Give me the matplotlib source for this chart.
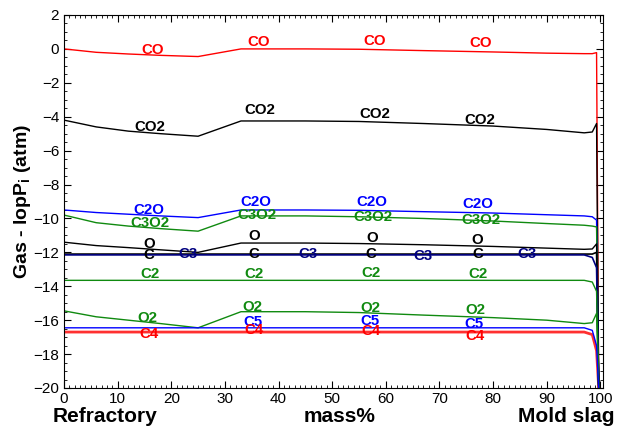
import numpy as np
import matplotlib.pyplot as plt
from matplotlib.ticker import MultipleLocator

plt.rcParams['font.family'] = ['Liberation Sans', 'DejaVu Sans']

# composition grid (mass%) shared by all species
xs = [0, 6, 12, 18, 25, 33, 45, 55, 67, 80, 90, 97, 98.5, 99.3, 99.7]

co = [0.0, -0.2, -0.3, -0.38, -0.45, 0.0, 0.0, -0.02, -0.1, -0.18, -0.25, -0.28, -0.28, -0.22, -20]
co2 = [-4.2, -4.6, -4.85, -5.0, -5.15, -4.25, -4.25, -4.28, -4.4, -4.55, -4.75, -4.95, -4.9, -4.4, -20]
c2o = [-9.5, -9.65, -9.75, -9.85, -9.95, -9.5, -9.5, -9.52, -9.6, -9.68, -9.78, -9.85, -9.9, -10.1, -20]
c3o2 = [-9.8, -10.25, -10.45, -10.6, -10.75, -9.85, -9.85, -9.9, -10.0, -10.15, -10.3, -10.4, -10.45, -10.5, -20]
o = [-11.4, -11.6, -11.72, -11.85, -12.0, -11.45, -11.45, -11.48, -11.55, -11.65, -11.75, -11.82, -11.8, -11.5, -20]
c = [-12.1] * 13 + [-12.0, -20]
c3 = [-12.15] * 12 + [-12.3, -12.9, -20]
c2 = [-13.65] * 12 + [-13.75, -14.3, -20]
o2 = [-15.45, -15.8, -16.0, -16.2, -16.45, -15.5, -15.5, -15.55, -15.7, -15.85, -16.0, -16.2, -16.15, -15.6, -20]
c5 = [-16.45] * 12 + [-16.6, -17.5, -20]
c4 = [-16.7] * 12 + [-16.85, -17.8, -20]

# in-plot labels: name, colour, x positions, y positions
labels = [
    ("CO", "red", [16.6, 36.3, 57.9, 77.7], [-0.06, 0.41, 0.47, 0.35]),
    ("CO2", "black", [16.0, 36.5, 57.9, 77.5], [-4.6, -3.6, -3.84, -4.19]),
    ("C2O", "blue", [15.8, 35.8, 57.4, 77.1], [-9.51, -9.04, -9.04, -9.16]),
    ("C3O2", "green", [16.0, 36.0, 57.6, 77.7], [-10.28, -9.8, -9.92, -10.1]),
    ("O", "black", [15.8, 35.4, 57.4, 77.1], [-11.52, -11.05, -11.16, -11.28]),
    ("C", "black", [15.8, 35.4, 57.2, 77.1], [-12.17, -12.1, -12.1, -12.1]),
    ("C3", "navy", [23.1, 45.4, 66.9, 86.4], [-12.1, -12.1, -12.2, -12.1]),
    ("C2", "green", [16.0, 35.4, 57.2, 77.1], [-13.3, -13.3, -13.2, -13.3]),
    ("O2", "green", [15.6, 35.2, 57.2, 76.7], [-15.9, -15.2, -15.3, -15.4]),
    ("C5", "blue", [35.2, 57.0, 76.5], [-16.1, -16.07, -16.2]),
    ("C4", "red", [15.8, 35.4, 57.2, 76.7], [-16.8, -16.6, -16.65, -16.95]),
]

fig = plt.figure(figsize=(6.17, 4.32), dpi=100)
ax = fig.add_axes([64 / 617, 1 - 388 / 432, 539 / 617, 373 / 432])

green = "#108a10"
ax.plot(xs, c4, color="#ff3030", lw=2.0)
ax.plot(xs, co, color="red", lw=1)
ax.plot(xs, co2, color="black", lw=1)
ax.plot(xs, c2o, color="blue", lw=1)
ax.plot(xs, c3o2, color=green, lw=1)
ax.plot(xs, o, color="black", lw=1)
ax.plot(xs, c, color="black", lw=1.2)
ax.plot(xs, c3, color="navy", lw=1.2)
ax.plot(xs, c2, color=green, lw=1)
ax.plot(xs, o2, color=green, lw=1)
ax.plot(xs, c5, color="blue", lw=1)

colmap = {"green": green}
for name, col, lx, ly in labels:
    for xx, yy in zip(lx, ly):
        ax.text(xx, yy, name, color=colmap.get(col, col), fontsize=10.8,
                fontweight="bold", ha="center", va="center")

ax.set_xlim(0, 100.5)
ax.set_ylim(-20, 2)
ax.set_xticks(np.arange(0, 101, 10))
ax.set_yticks(np.arange(-20, 3, 2))
ax.xaxis.set_minor_locator(MultipleLocator(1))
ax.yaxis.set_minor_locator(MultipleLocator(0.5))
ax.tick_params(which="both", direction="in", top=True, right=True, labelsize=11)
ax.tick_params(which="major", length=5)
ax.tick_params(which="minor", length=2.5)
ax.tick_params(axis="x", pad=3)

ax.set_ylabel("Gas - lopP$_\\mathregular{i}$ (atm)", fontsize=14, fontweight="bold",
              labelpad=0)
fig.text(105 / 617, 1 - 417 / 432, "Refractory", fontsize=15, fontweight="bold",
         ha="center", va="center")
fig.text(340 / 617, 1 - 417 / 432, "mass%", fontsize=15, fontweight="bold",
         ha="center", va="center")
fig.text(615 / 617, 1 - 417 / 432, "Mold slag", fontsize=15, fontweight="bold",
         ha="right", va="center")

fig.savefig("out.png", dpi=100)
